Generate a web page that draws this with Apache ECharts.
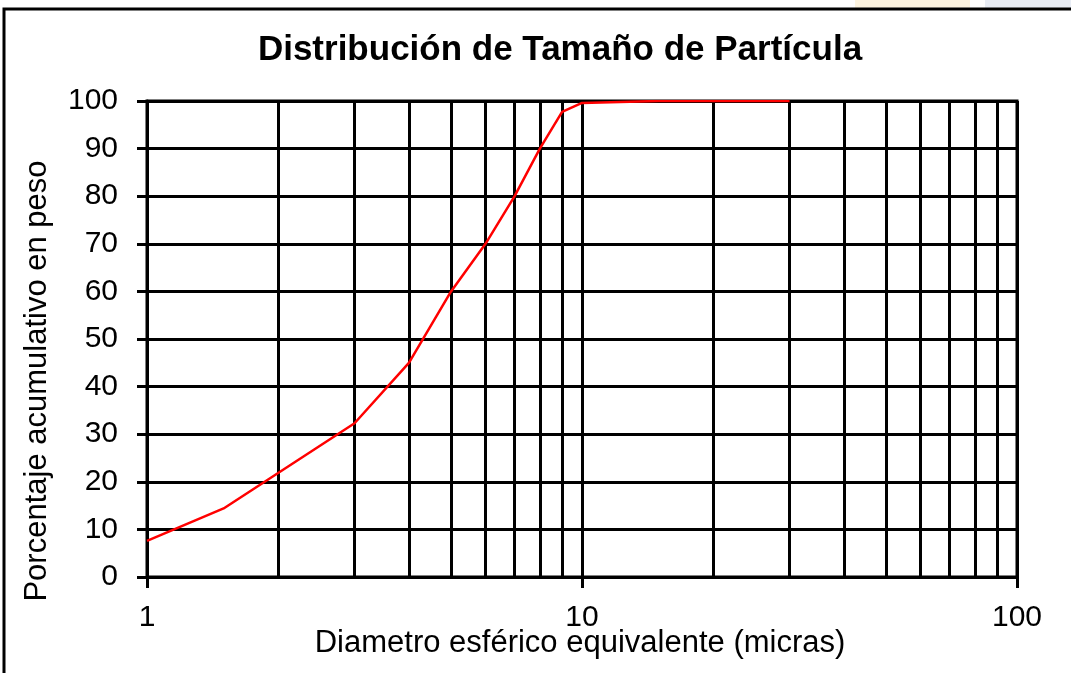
<!DOCTYPE html>
<html>
<head>
<meta charset="utf-8">
<script src="https://cdn.jsdelivr.net/npm/echarts@6/dist/echarts.min.js"></script>
<style>html,body{margin:0;padding:0;background:#fff;}#c{width:1071px;height:673px;}</style>
</head>
<body>
<div id="c"></div>
<script>
var diameters = [1, 1.5, 3, 4, 5, 6, 7, 8, 9, 10, 15, 30];
var cumulative = [7.6, 14.4, 32.3, 45, 60, 70, 80, 90, 97.7, 99.6, 100, 100];
var minorGridX = [2, 3, 4, 5, 6, 7, 8, 9, 20, 30, 40, 50, 60, 70, 80, 90];
var titleText = 'Distribución de Tamaño de Partícula';
var xName = 'Diametro esférico equivalente (micras)';
var yName = 'Porcentaje acumulativo en peso';

var chart = echarts.init(document.getElementById('c'));
var font = '"Liberation Sans", Arial, sans-serif';
chart.setOption({
  animation: false,
  backgroundColor: '#fff',
  grid: {left: 147, right: 54, top: 101, bottom: 96, show: true, borderColor: '#000', borderWidth: 3},
  graphic: [
    {type: 'rect', left: 855, top: 0, shape: {width: 115, height: 8}, style: {fill: '#fdf4e0'}, z: -1},
    {type: 'rect', left: 985, top: 0, shape: {width: 90, height: 8}, style: {fill: '#e8ecf4'}, z: -1},
    {type: 'rect', shape: {x: 4, y: 9, width: 1200, height: 800}, style: {fill: 'none', stroke: '#000', lineWidth: 3}, z: 10},
    {type: 'text', x: 560, y: 50, style: {text: titleText, font: 'bold 35px ' + font, fill: '#000', align: 'center', verticalAlign: 'middle'}},
    {type: 'text', x: 37, y: 381, rotation: Math.PI / 2, style: {text: yName, font: '31px ' + font, fill: '#000', align: 'center', verticalAlign: 'middle'}},
    {type: 'text', x: 580, y: 643, style: {text: xName, font: '31px ' + font, fill: '#000', align: 'center', verticalAlign: 'middle'}}
  ],
  xAxis: {
    type: 'log', logBase: 10, min: 1, max: 100,
    axisLine: {lineStyle: {color: '#000', width: 3}},
    axisTick: {show: true, length: 11, lineStyle: {color: '#000', width: 3}},
    axisLabel: {fontFamily: font, fontSize: 30, color: '#000', margin: 26},
    splitLine: {show: true, lineStyle: {color: '#000', width: 3}}
  },
  yAxis: {
    type: 'value', min: 0, max: 100, interval: 10,
    axisLine: {show: true, lineStyle: {color: '#000', width: 3}},
    axisTick: {show: true, length: 10, lineStyle: {color: '#000', width: 3}},
    axisLabel: {fontFamily: font, fontSize: 30, color: '#000', margin: 29},
    splitLine: {show: true, lineStyle: {color: '#000', width: 3}}
  },
  series: [{
    type: 'line',
    data: diameters.map(function (d, i) { return [d, cumulative[i]]; }),
    symbol: 'none',
    lineStyle: {color: '#ff0000', width: 2.5},
    z: 5,
    markLine: {
      silent: true, symbol: 'none', label: {show: false},
      lineStyle: {color: '#000', width: 3, type: 'solid'},
      data: minorGridX.map(function (v) { return {xAxis: v}; }),
      z: 1
    }
  }]
});
</script>
</body>
</html>
